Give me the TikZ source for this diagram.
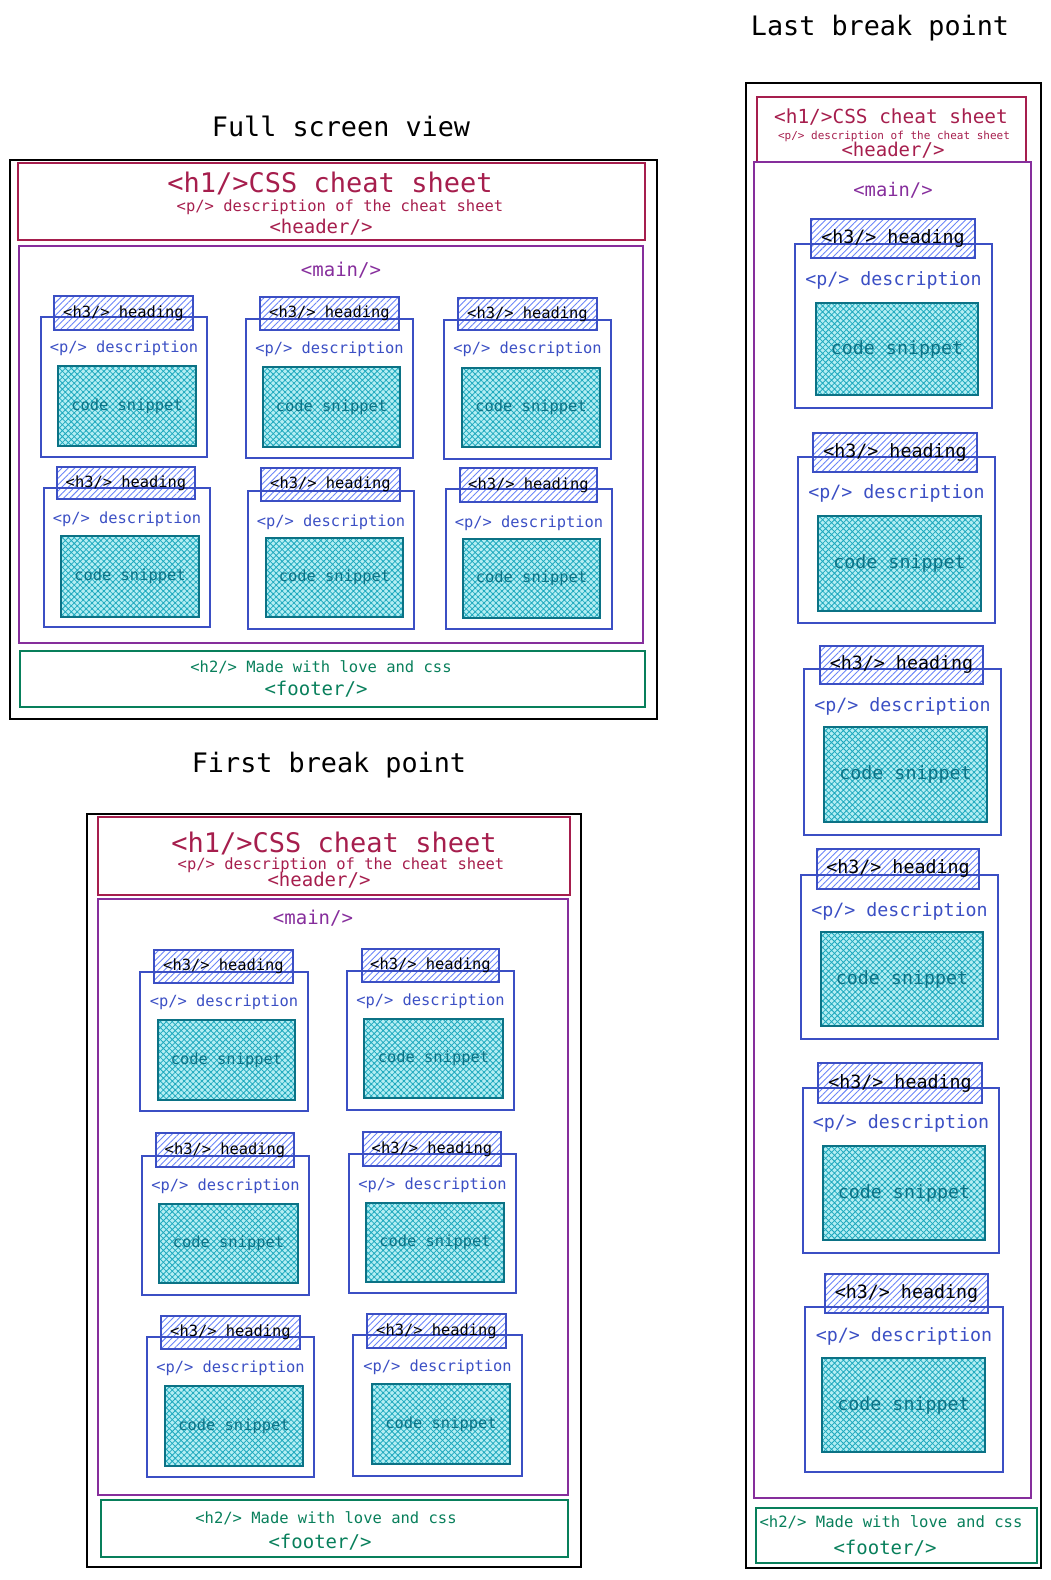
\documentclass[tikz,border=0pt]{standalone}
\usepackage{fontspec}
\setmainfont{DejaVu Sans Mono}
\usetikzlibrary{calc,patterns.meta}

\definecolor{headcol}{HTML}{A61E4D}
\definecolor{maincol}{HTML}{862E9C}
\definecolor{cardcol}{HTML}{3B4FC4}
\definecolor{hatchcol}{HTML}{6A84F8}
\definecolor{codecol}{HTML}{0B7285}
\definecolor{codehatch}{HTML}{1FA9BE}
\definecolor{codefill}{HTML}{B4EEF3}
\definecolor{footcol}{HTML}{087F5B}

\newcommand{\fsz}[1]{\fontsize{#1}{#1}\selectfont}
\newcommand{\cardfont}{\fsz{15.4}}

\tikzset{
  outerbox/.style={draw=black, line width=1.8pt},
  headerbox/.style={draw=headcol, line width=1.3pt},
  mainbox/.style={draw=maincol, line width=1.3pt},
  footerbox/.style={draw=footcol, line width=1.3pt},
  cardbox/.style={draw=cardcol, line width=1.2pt},
  headbox/.style={draw=cardcol, line width=1.2pt,
    pattern={Lines[angle=45,distance=4.5pt,line width=0.9pt]}, pattern color=hatchcol},
  codebox/.style={draw=codecol, line width=1.2pt, preaction={fill=codefill},
    pattern={Hatch[angle=45,distance=4.2pt,line width=0.8pt]}, pattern color=codehatch},
  lbl/.style={inner sep=0pt},
  titletext/.style={lbl, font=\fsz{26.8}, text=black},
  h3text/.style={lbl, font=\cardfont, text=black},
  desctext/.style={lbl, font=\cardfont, text=cardcol},
  codetext/.style={lbl, font=\cardfont, text=codecol}
}

% one card: name, outline, heading box, code box, y of the description
\newcommand{\htmlcard}[8]{%
  \draw[headbox] #4 rectangle #5;
  \draw[cardbox] #2 rectangle #3;
  \draw[codebox] #6 rectangle #7;
  \coordinate (#1mid) at ($#2!0.5!#3$);
  \node[h3text] (#1h) at ($#4!0.5!#5$) {<h3/> heading};
  \node[desctext] (#1p) at (#1mid |- 0,#8) {<p/> description};
  \node[codetext] (#1c) at ($#6!0.5!#7$) {code snippet};
}

\begin{document}
\begin{tikzpicture}[x=1pt, y=-1pt]
\useasboundingbox (0,0) rectangle (1051,1580);

% Full screen view
\node[titletext] (fulltitle) at (341,126) {Full screen view};
\draw[outerbox] (10,160) rectangle (657,719);
\draw[headerbox] (18,163) rectangle (645,240);
\node[lbl, font=\fsz{27}, text=headcol] (fullh1) at (330,183) {<h1/>CSS cheat sheet};
\node[lbl, font=\fsz{15.5}, text=headcol] (fulldesc) at (340,207) {<p/> description of the cheat sheet};
\node[lbl, font=\fsz{19}, text=headcol] (fullheader) at (321,227) {<header/>};
\draw[mainbox] (19,246) rectangle (643,643);
\node[lbl, font=\fsz{19}, text=maincol] (fullmain) at (341,270) {<main/>};
\htmlcard{fa}{(41,317)}{(207,457)}{(54,296)}{(193,330)}{(58,366)}{(196,446)}{348}
\htmlcard{fb}{(246,319)}{(413,458)}{(260,297)}{(399,330)}{(263,367)}{(400,447)}{349}
\htmlcard{fc}{(444,320)}{(611,459)}{(458,298)}{(597,330)}{(462,368)}{(600,447)}{349}
\htmlcard{fd}{(44,488)}{(210,627)}{(57,467)}{(195,499)}{(61,536)}{(199,617)}{519}
\htmlcard{fe}{(248,491)}{(414,629)}{(261,468)}{(400,501)}{(266,538)}{(403,617)}{522}
\htmlcard{ff}{(446,489)}{(612,629)}{(460,468)}{(597,502)}{(463,539)}{(600,618)}{523}
\draw[footerbox] (20,651) rectangle (645,707);
\node[lbl, font=\fsz{15.5}, text=footcol] (fullh2) at (321,667) {<h2/> Made with love and css};
\node[lbl, font=\fsz{19}, text=footcol] (fullfooter) at (316,689) {<footer/>};

% First break point
\node[titletext] (firsttitle) at (329,765) {First break point};
\draw[outerbox] (87,814) rectangle (581,1567);
\draw[headerbox] (98,817) rectangle (570,895);
\node[lbl, font=\fsz{27}, text=headcol] (firsth1) at (334,843) {<h1/>CSS cheat sheet};
\node[lbl, font=\fsz{15.5}, text=headcol] (firstdesc) at (341,865) {<p/> description of the cheat sheet};
\node[lbl, font=\fsz{19}, text=headcol] (firstheader) at (319,880) {<header/>};
\draw[mainbox] (98,899) rectangle (568,1495);
\node[lbl, font=\fsz{19}, text=maincol] (firstmain) at (313,918) {<main/>};
\htmlcard{sa}{(140,972)}{(308,1111)}{(154,950)}{(293,983)}{(158,1020)}{(295,1100)}{1002}
\htmlcard{sb}{(347,971)}{(514,1110)}{(362,949)}{(499,982)}{(364,1019)}{(503,1098)}{1001}
\htmlcard{sc}{(142,1156)}{(309,1295)}{(156,1133)}{(294,1167)}{(159,1204)}{(298,1283)}{1186}
\htmlcard{sd}{(349,1154)}{(516,1293)}{(363,1132)}{(501,1166)}{(366,1203)}{(504,1282)}{1185}
\htmlcard{se}{(147,1337)}{(314,1477)}{(161,1316)}{(300,1349)}{(165,1386)}{(303,1466)}{1368}
\htmlcard{sf}{(353,1335)}{(522,1476)}{(367,1314)}{(506,1348)}{(372,1384)}{(510,1464)}{1367}
\draw[footerbox] (101,1500) rectangle (568,1557);
\node[lbl, font=\fsz{15.5}, text=footcol] (firsth2) at (326,1518) {<h2/> Made with love and css};
\node[lbl, font=\fsz{19}, text=footcol] (firstfooter) at (320,1542) {<footer/>};

% Last break point
\begin{scope}
\renewcommand{\cardfont}{\fsz{18.3}}
\node[titletext] (lasttitle) at (880,28) {Last break point};
\draw[outerbox] (746,83) rectangle (1041,1568);
\draw[headerbox] (757,97) rectangle (1026,162);
\node[lbl, font=\fsz{19.4}, text=headcol] (lasth1) at (891,117) {<h1/>CSS cheat sheet};
\node[lbl, font=\fsz{11}, text=headcol] (lastdesc) at (894,136) {<p/> description of the cheat sheet};
\node[lbl, font=\fsz{19}, text=headcol] (lastheader) at (893,150) {<header/>};
\draw[mainbox] (754,162) rectangle (1031,1498);
\node[lbl, font=\fsz{18.8}, text=maincol] (lastmain) at (893,190) {<main/>};
\htmlcard{la}{(795,244)}{(992,408)}{(811,219)}{(975,258)}{(816,303)}{(978,395)}{280}
\htmlcard{lb}{(798,457)}{(995,623)}{(813,433)}{(977,472)}{(818,516)}{(981,611)}{493}
\htmlcard{lc}{(804,669)}{(1001,835)}{(820,646)}{(983,684)}{(824,727)}{(987,822)}{706}
\htmlcard{ld}{(801,875)}{(998,1039)}{(817,849)}{(979,889)}{(821,932)}{(983,1026)}{911}
\htmlcard{le}{(803,1088)}{(999,1253)}{(818,1063)}{(982,1103)}{(823,1146)}{(985,1240)}{1123}
\htmlcard{lf}{(805,1307)}{(1003,1472)}{(825,1274)}{(988,1313)}{(822,1358)}{(985,1452)}{1336}
\draw[footerbox] (756,1508) rectangle (1037,1563);
\node[lbl, font=\fsz{15.6}, text=footcol] (lasth2) at (891,1522) {<h2/> Made with love and css};
\node[lbl, font=\fsz{19}, text=footcol] (lastfooter) at (885,1548) {<footer/>};
\end{scope}
\end{tikzpicture}
\end{document}
